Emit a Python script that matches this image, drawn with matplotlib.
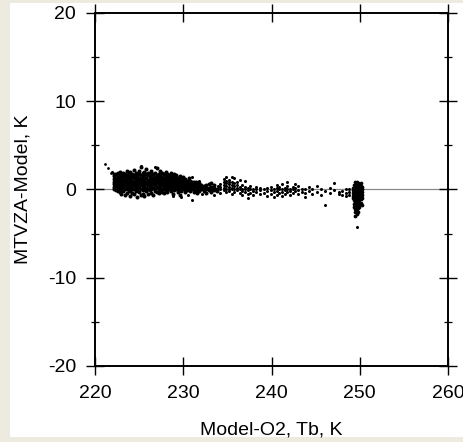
import numpy as np
import matplotlib.pyplot as plt
from matplotlib.patches import Rectangle
from matplotlib.ticker import MultipleLocator

plt.rcParams['font.family'] = ['Liberation Sans', 'DejaVu Sans']
plt.rcParams['axes.unicode_minus'] = False

# Model-O2 Tb (K) vs MTVZA-Model difference (K)
lone_points = [(221.1, 2.9), (221.5, 2.4), (221.8, 1.9)]

main_band = [
    (222.2, [0.0, 0.3, 0.6, 0.9, 1.2, 1.5, 1.8]),
    (222.4, [-0.1, 0.4, 0.7, 1.0, 1.3, 1.7]),
    (222.6, [0.2, 0.5, 0.8, 1.1, 1.4, 1.9, -0.2]),
    (222.8, [-0.3, 0.1, 0.6, 0.9, 1.2, 1.6, 2.0]),
    (223.0, [0.0, 0.4, 0.7, 1.0, 1.3, 1.7, -0.5]),
    (223.2, [-0.2, 0.3, 0.6, 0.8, 1.1, 1.5, 1.9]),
    (223.4, [0.1, 0.5, 0.9, 1.2, 1.4, 1.8, -0.6]),
    (223.6, [-0.4, 0.0, 0.4, 0.7, 1.0, 1.3, 1.6, 2.1]),
    (223.8, [0.2, 0.6, 0.9, 1.1, 1.5, 1.9, -0.1]),
    (224.0, [-0.7, -0.2, 0.3, 0.8, 1.2, 1.7, 2.0]),
    (224.2, [0.0, 0.4, 0.7, 1.0, 1.4, 1.8, -0.4]),
    (224.4, [-0.5, 0.1, 0.5, 0.9, 1.3, 1.6, 2.2]),
    (224.6, [-0.2, 0.3, 0.6, 1.0, 1.2, 1.5, 1.9]),
    (224.8, [-0.8, 0.0, 0.4, 0.8, 1.1, 1.4, 1.8]),
    (225.0, [-0.3, 0.2, 0.6, 1.0, 1.3, 1.7, 2.1]),
    (225.2, [-0.6, 0.1, 0.5, 0.9, 1.2, 1.6, 2.6]),
    (225.4, [-0.1, 0.4, 0.7, 1.1, 1.4, 1.9, -0.5]),
    (225.6, [-0.7, 0.0, 0.3, 0.8, 1.2, 1.5, 2.0]),
    (225.8, [-0.2, 0.2, 0.6, 0.9, 1.3, 1.7, 2.3]),
    (226.0, [-0.5, 0.1, 0.5, 0.8, 1.1, 1.6, 1.9]),
    (226.2, [-0.1, 0.3, 0.7, 1.0, 1.4, 1.8]),
    (226.4, [-0.4, 0.0, 0.4, 0.9, 1.2, 1.5, 2.1]),
    (226.6, [-0.6, 0.2, 0.6, 1.0, 1.3, 1.7]),
    (226.8, [-0.2, 0.1, 0.5, 0.8, 1.1, 1.4, 1.9]),
    (227.0, [-0.3, 0.3, 0.7, 1.0, 1.3, 1.6, 2.4]),
    (227.2, [0.0, 0.4, 0.8, 1.2, 1.5, 1.8, -0.4]),
    (227.4, [-0.2, 0.2, 0.6, 0.9, 1.2, 1.6, 2.1]),
    (227.6, [0.1, 0.5, 0.8, 1.1, 1.4, 1.9, -0.3]),
    (227.8, [-0.4, 0.0, 0.4, 0.7, 1.0, 1.3, 1.7]),
    (228.0, [-0.1, 0.3, 0.6, 0.9, 1.2, 1.5, 2.0]),
    (228.2, [-0.3, 0.1, 0.5, 0.8, 1.1, 1.4, 1.8]),
    (228.4, [0.0, 0.4, 0.7, 1.0, 1.3, 1.6]),
    (228.6, [-0.2, 0.2, 0.5, 0.9, 1.2, 1.5, 1.9]),
    (228.8, [0.1, 0.4, 0.7, 1.0, 1.3, -0.5]),
    (229.0, [-0.1, 0.3, 0.6, 0.9, 1.2, 1.5, 1.8]),
    (229.2, [0.0, 0.2, 0.5, 0.8, 1.1, 1.4, 1.6]),
    (229.4, [-0.3, 0.1, 0.4, 0.7, 1.0, 1.3]),
    (229.6, [0.0, 0.3, 0.6, 0.9, 1.2, 1.5, -0.6]),
    (229.8, [-0.2, 0.1, 0.4, 0.7, 1.0, 1.3]),
    (230.0, [0.0, 0.3, 0.5, 0.8, 1.1, 1.4]),
    (230.2, [-0.3, 0.1, 0.4, 0.6, 0.9, 1.2]),
    (230.4, [-0.1, 0.2, 0.5, 0.8, 1.0]),
    (230.6, [0.0, 0.3, 0.6, 0.9, 1.3]),
    (230.8, [-0.2, 0.1, 0.4, 0.7, 1.0]),
    (231.0, [0.0, 0.2, 0.5, 0.8]),
    (231.2, [-0.3, 0.1, 0.4, 0.6, 0.9]),
    (231.4, [-0.1, 0.2, 0.5, 0.8]),
    (231.6, [-0.4, 0.0, 0.3, 0.6]),
    (231.8, [-0.2, 0.1, 0.4, 0.7]),
    (232.0, [0.0, 0.3, 0.5]),
    (232.3, [-0.2, 0.1, 0.4]),
    (232.6, [-0.4, 0.0, 0.2, 0.5]),
    (232.9, [-0.1, 0.2, 0.6]),
    (233.2, [-0.3, 0.0, 0.3, 0.7]),
    (233.5, [-0.1, 0.2, 0.5]),
    (233.8, [-0.2, 0.1]),
]

sparse_tail = [
    (221.9, [2.0]), (225.2, [2.7]), (226.8, [2.5]), (228.8, [-0.7]),
    (229.7, [-0.8]), (230.5, [-0.6]), (231.0, [-1.2, 1.4]), (231.8, [1.0]),
    (232.1, [-0.5]), (233.5, [-0.6]), (233.9, [0.4]),
    (234.2, [-0.4, 0.0, 0.3, 0.6]),
    (234.6, [-0.1, 0.2, 0.5, 0.9, 1.2]),
    (234.9, [-0.3, 0.0, 0.4, 0.7, 1.0, 1.4]),
    (235.2, [-0.2, 0.1, 0.3, 0.6, 0.8, 1.1]),
    (235.5, [-0.5, 0.0, 0.2, 0.5, 0.9, 1.4]),
    (235.8, [-0.3, 0.1, 0.4, 0.7, 1.3]),
    (236.1, [-0.1, 0.2, 0.5, 0.8]),
    (236.4, [-0.4, 0.0, 0.3, 1.1]),
    (236.7, [-0.6, -0.2, 0.1, 0.5]),
    (237.0, [-0.3, 0.0, 0.3, 1.0]),
    (237.3, [-1.0, -0.5, -0.1, 0.2]),
    (237.6, [-0.4, 0.0, 0.4]),
    (237.9, [-0.2, 0.1, -0.6]),
    (238.3, [-0.3, 0.0, 0.3]),
    (238.7, [-0.5, -0.1, 0.2]),
    (239.1, [-0.4, 0.0]),
    (239.5, [-0.7, -0.2, 0.2]),
    (239.9, [-0.5, -0.1, 0.3]),
    (240.3, [-0.8, -0.3, 0.1]),
    (240.6, [-0.6, -0.2, 0.2, 0.5]),
    (240.9, [-0.4, 0.0, 0.3]),
    (241.2, [-0.7, -0.3, 0.1, 0.6]),
    (241.5, [-0.5, -0.1, 0.2]),
    (241.8, [-0.3, 0.0, 0.4, 0.8]),
    (242.1, [-0.6, -0.2, 0.1]),
    (242.4, [-0.4, 0.0, 0.3]),
    (242.7, [-0.2, 0.2, 0.6]),
    (243.0, [-0.5, -0.1, 0.4]),
    (243.4, [-0.3, 0.1]),
    (243.8, [-0.9, -0.4, 0.0]),
    (244.2, [-0.2, 0.3]),
    (244.6, [-0.5, 0.1]),
    (245.1, [-0.3, 0.4]),
    (245.6, [-0.6, 0.0]),
    (246.1, [-1.8, -0.2]),
    (246.6, [0.2, -0.4]),
    (247.1, [0.7, -0.1]),
    (247.6, [-0.5, -0.3]),
    (248.0, [-0.6, -0.2]),
    (248.4, [-0.4, 0.0, -0.7]),
    (248.8, [-0.3, -0.6, 0.1]),
    (249.65, [-4.3]),
]

warm_cluster = [
    (249.2, [-1.0, -0.7, -0.4, -0.1, 0.2]),
    (249.35, [-2.0, -1.6, -1.2, -0.8, -0.5, -0.2, 0.1, 0.5]),
    (249.5, [-3.0, -2.6, -2.2, -1.8, -1.4, -1.0, -0.6, -0.3, 0.0, 0.4, 0.8]),
    (249.65, [-2.8, -2.4, -2.0, -1.6, -1.2, -0.8, -0.5, -0.2, 0.2, 0.6, 0.9]),
    (249.8, [-2.5, -2.1, -1.7, -1.3, -0.9, -0.6, -0.3, 0.0, 0.3, 0.7]),
    (249.95, [-2.0, -1.6, -1.2, -0.9, -0.6, -0.3, 0.0, 0.3, 0.6]),
    (250.1, [-1.5, -1.1, -0.8, -0.5, -0.2, 0.1, 0.4, 0.7]),
    (250.25, [-1.8, -1.0, -0.6, -0.3, 0.0, 0.3]),
]

x_ticks = [220, 230, 240, 250, 260]
y_ticks = [-20, -10, 0, 10, 20]


def unpack(columns):
    xs, ys = [], []
    for tb, diffs in columns:
        xs.extend([tb] * len(diffs))
        ys.extend(diffs)
    return np.array(xs), np.array(ys)


fig = plt.figure(figsize=(4.64, 4.42), dpi=100)
fig.patch.set_facecolor('#EDEBE0')
fig.patches.append(Rectangle((10 / 464, 5 / 442), 1 - 10 / 464, 434 / 442,
                             transform=fig.transFigure, facecolor='white',
                             edgecolor='none', zorder=-10))

ax = fig.add_axes([95 / 464, 1 - 366 / 442, 353 / 464, 353 / 442])
ax.axhline(0, color='#8a8a8a', lw=0.9, zorder=1)

lx = [p[0] for p in lone_points]
ly = [p[1] for p in lone_points]
ax.plot(lx, ly, 'o', color='black', ms=2.0, mew=0, zorder=2)
# dense parts drawn with bigger dots so they merge like in the original
for group, size in ((main_band, 2.9), (warm_cluster, 2.7), (sparse_tail, 2.2)):
    gx, gy = unpack(group)
    ax.plot(gx, gy, 'o', color='black', ms=size, mew=0, zorder=2)

ax.set_xlim(220, 260)
ax.set_ylim(-20, 20)
ax.set_xticks(x_ticks)
ax.set_yticks(y_ticks)
ax.yaxis.set_minor_locator(MultipleLocator(5))
for s in ax.spines.values():
    s.set_linewidth(1.4)
ax.tick_params(which='major', direction='inout', length=13, width=1.0,
               top=True, right=True, labelsize=14, pad=7)
ax.tick_params(which='minor', direction='inout', length=6, width=0.9,
               top=False, right=True)
ax.tick_params(axis='x', which='minor', bottom=False, top=False)

ax.set_xlabel('Model-O2, Tb, K', fontsize=14, labelpad=14)
ax.set_ylabel('MTVZA-Model, K', fontsize=14, labelpad=12)

fig.savefig('out.png', dpi=100, facecolor=fig.get_facecolor())
